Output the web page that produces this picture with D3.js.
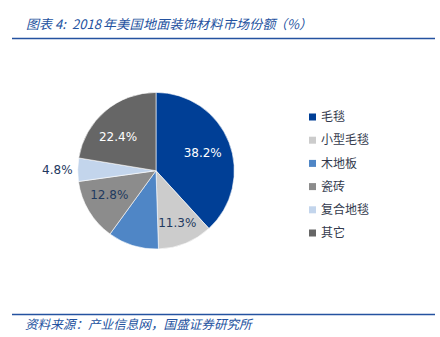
<!DOCTYPE html>
<html><head><meta charset="utf-8">
<script src="https://cdn.jsdelivr.net/npm/d3@7"></script>
<style>body{margin:0;background:#fff}svg{display:block}</style>
</head><body>
<svg id="c" width="440" height="337"></svg>
<script>
const categories = ["毛毯","小型毛毯","木地板","瓷砖","复合地毯","其它"];
const values = [38.2, 11.3, 10.5, 12.8, 4.8, 22.4];
const labels = ["38.2%","11.3%","","12.8%","4.8%","22.4%"];
const colors = ["#003F96","#CCCCCC","#4F86C6","#8C8C8C","#C3D5EC","#666666"];
const labelColors = ["#FFFFFF","#1F3A5F","#1F3A5F","#1F3A5F","#1F3A5F","#FFFFFF"];
const titleParts = ["图表 4:", "2018", "年美国地面装饰材料市场份额", "（%）"];
const sourceText = "资料来源：产业信息网，国盛证券研究所";

const svg = d3.select("#c");
const blue = "#2452A0";
const cjk = "'Noto Sans CJK SC', sans-serif";

const t = svg.append("text").attr("y",29).attr("fill",blue)
  .attr("font-family",cjk).attr("font-size",13).attr("font-style","italic");
t.append("tspan").attr("x",26).text(titleParts[0]);
t.append("tspan").attr("x",72).text(titleParts[1]);
t.append("tspan").attr("x",103).attr("letter-spacing",0.3).text(titleParts[2]);
t.append("tspan").attr("x",274).text(titleParts[3]);

svg.append("line").attr("x1",12).attr("x2",435).attr("y1",38.5).attr("y2",38.5)
  .attr("stroke",blue).attr("stroke-width",1.6);
svg.append("line").attr("x1",12).attr("x2",435).attr("y1",314.5).attr("y2",314.5)
  .attr("stroke",blue).attr("stroke-width",1.6);
svg.append("text").attr("x",25).attr("y",329).attr("fill",blue)
  .attr("font-family",cjk).attr("font-size",12.6).attr("font-style","italic").text(sourceText);

const cx = 156, cy = 170.7, r = 78.3;
const pie = d3.pie().sort(null).value(d=>d)(values);
const arc = d3.arc().innerRadius(0).outerRadius(r);
const g = svg.append("g").attr("transform",`translate(${cx},${cy})`);
g.selectAll("path").data(pie).join("path").attr("d",arc)
  .attr("fill",(d,i)=>colors[i]).attr("stroke","#fff").attr("stroke-width",0.6);

// label placement (radius fraction and angle nudge, degrees)
const lblFrac = [0.64,0.72,0.65,0.67,1.26,0.65];
const lblNudge = [0,0,0,4,0,-8];
g.selectAll("text.l").data(pie).join("text").attr("class","l")
  .attr("transform",(d,i)=>{
    const a = (d.startAngle+d.endAngle)/2 + lblNudge[i]*Math.PI/180;
    const rr = r*lblFrac[i];
    return `translate(${Math.sin(a)*rr},${-Math.cos(a)*rr})`;
  })
  .attr("text-anchor","middle").attr("dy","0.35em")
  .attr("font-family","'DejaVu Sans', sans-serif").attr("font-size",12)
  .attr("fill",(d,i)=>labelColors[i]).text((d,i)=>labels[i]);

const lg = svg.append("g").attr("transform","translate(309,117)");
const rows = lg.selectAll("g").data(categories).join("g")
  .attr("transform",(d,i)=>`translate(0,${i*23.2})`);
rows.append("rect").attr("x",0).attr("y",-3.5).attr("width",7).attr("height",7)
  .attr("fill",(d,i)=>colors[i]);
rows.append("text").attr("x",12).attr("dy","0.35em").attr("font-family",cjk)
  .attr("font-size",12).attr("fill","#333A4D").text(d=>d);
</script>
</body></html>
